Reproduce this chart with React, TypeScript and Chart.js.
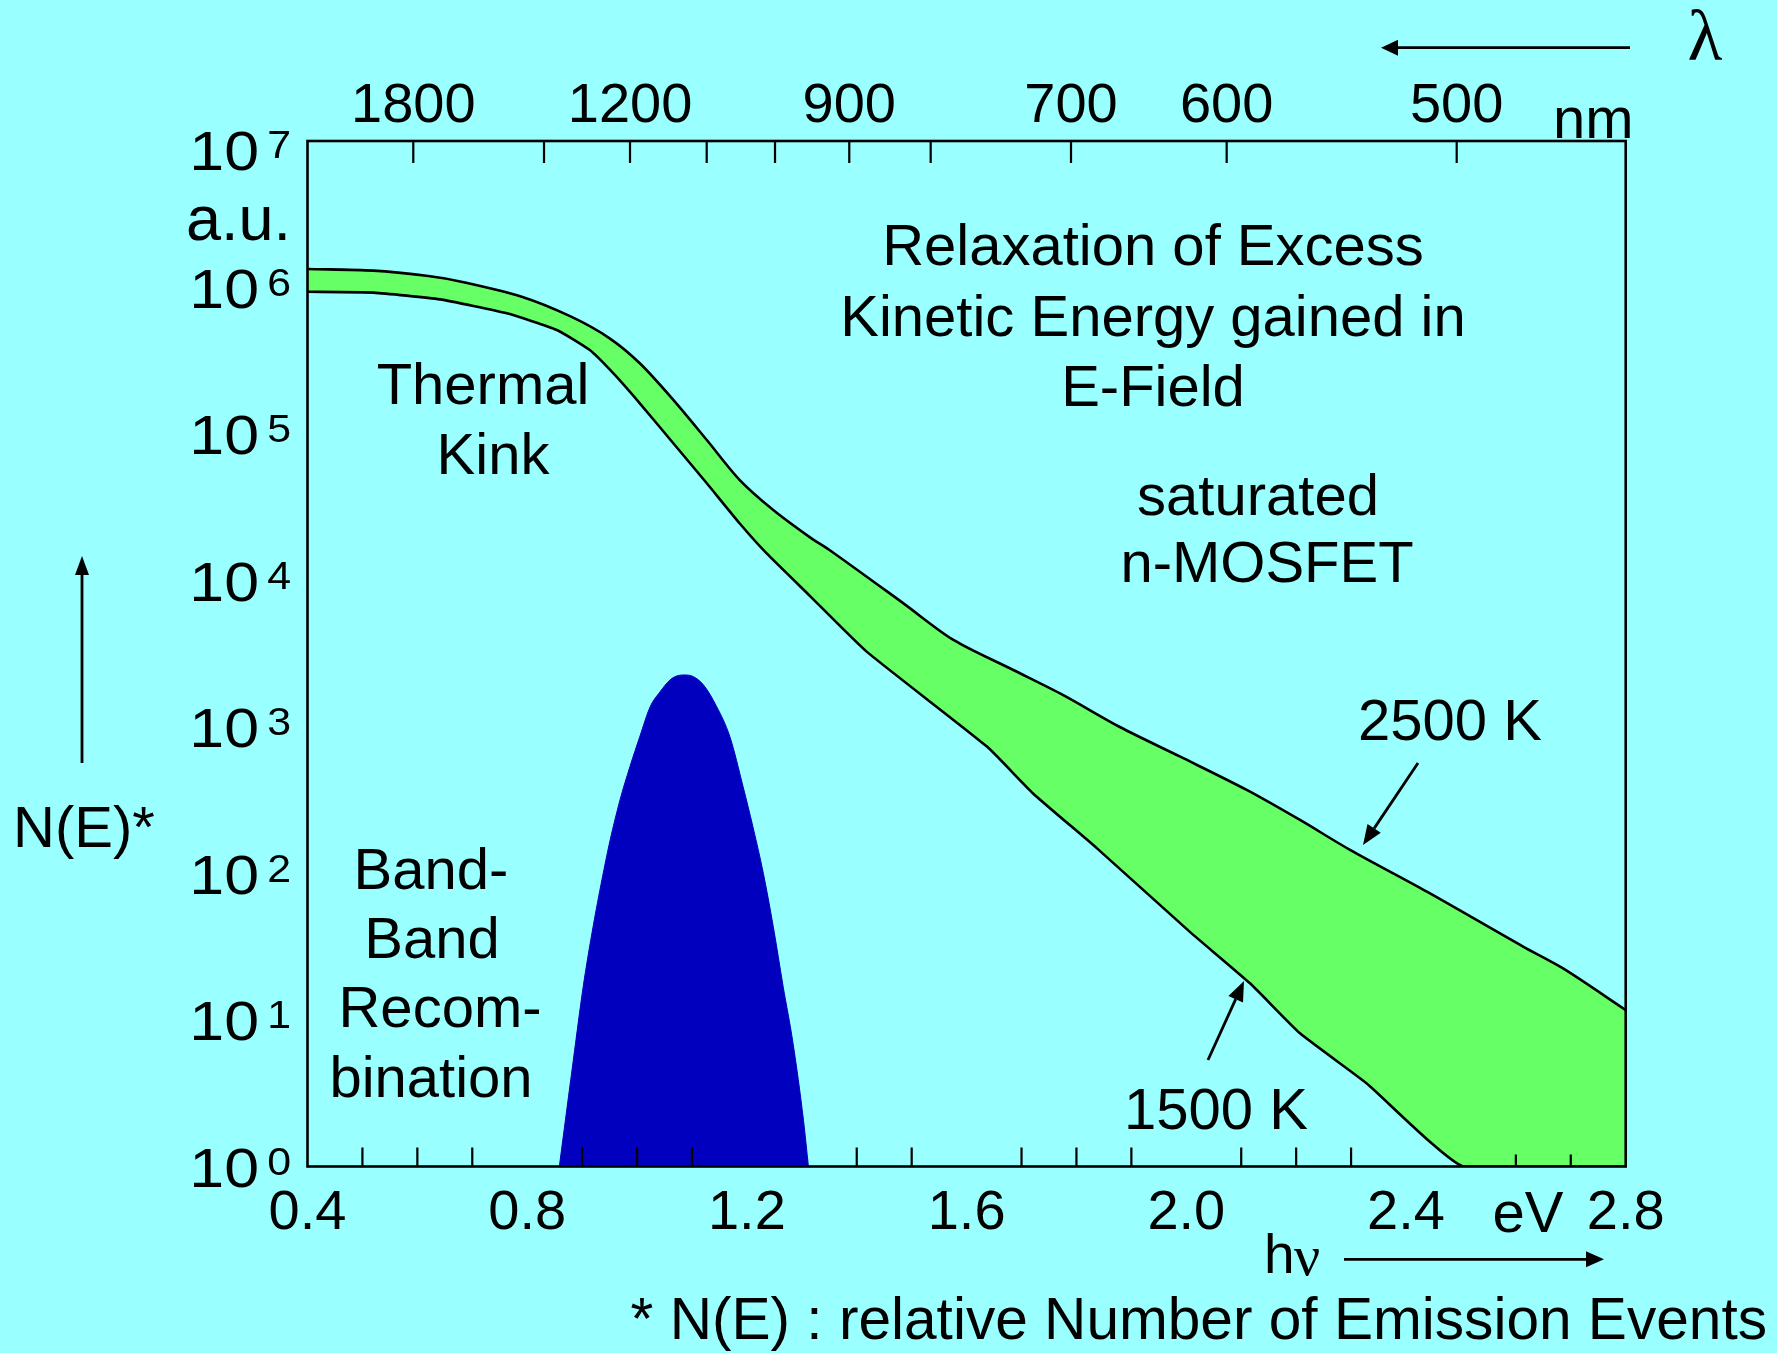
import React, { useEffect, useRef } from 'react';
import { Chart, registerables } from 'chart.js';

Chart.register(...registerables);

// ---------- data ----------
// Upper boundary of the emission band (2500 K)
const energy2500K = [0.40, 0.52, 0.62, 0.68, 0.79, 0.88, 0.95, 1.005, 1.066, 1.127, 1.187, 1.248, 1.315, 1.351, 1.485, 1.576, 1.685, 1.776, 1.879, 1.989, 2.110, 2.207, 2.298, 2.438, 2.614, 2.686, 2.80];
const emission2500K = [1.337e6, 1.303e6, 1.197e6, 1.096e6, 8.65e5, 6.32e5, 4.50e5, 3.04e5, 1.71e5, 9.10e4, 4.85e4, 3.03e4, 1.97e4, 1.61e4, 6.98e3, 3.93e3, 2.45e3, 1.65e3, 1.00e3, 627, 372, 232, 145, 75.2, 31.6, 22.5, 11.7];

// Lower boundary of the emission band (1500 K)
const energy1500K = [0.40, 0.52, 0.641, 0.763, 0.854, 0.914, 0.957, 1.005, 1.066, 1.127, 1.187, 1.236, 1.315, 1.418, 1.637, 1.721, 1.837, 2.007, 2.116, 2.207, 2.328, 2.504, 2.80];
const emission1500K = [9.35e5, 9.23e5, 8.30e5, 6.67e5, 5.13e5, 3.74e5, 2.59e5, 1.62e5, 8.65e4, 4.61e4, 2.45e4, 1.53e4, 7.83e3, 3.27e3, 735, 352, 149, 39.8, 17.8, 8.11, 3.70, 1, 1];

// Band-band recombination peak
const energyBandBand = [0.8585, 0.884, 0.902, 0.920, 0.936, 0.951, 0.969, 0.987, 1.005, 1.024, 1.042, 1.060, 1.072, 1.086, 1.100, 1.121, 1.145, 1.169, 1.193, 1.211, 1.230, 1.248, 1.266, 1.284, 1.303, 1.312];
const emissionBandBand = [1, 5.33, 16.9, 43.4, 90.4, 169, 318, 536, 859, 1377, 1742, 2094, 2228, 2265, 2228, 1936, 1377, 859, 392, 208, 100, 43.4, 16.9, 6.93, 2.07, 1];

// Axis ticks
const xTickValues = [0.4, 0.8, 1.2, 1.6, 2.0, 2.4, 2.8];
const xTickLabels = ['0.4', '0.8', '1.2', '1.6', '2.0', '2.4', '2.8'];
const xMinorTicks = [0.5, 0.6, 0.7, 0.9, 1.0, 1.1, 1.4, 1.5, 1.7, 1.8, 1.9, 2.1, 2.2, 2.3, 2.6, 2.7];
const wavelengthTickEv = [0.5926, 0.8306, 0.9872, 1.1268, 1.2512, 1.3864, 1.5346, 1.7901, 2.0735, 2.4923];
const wavelengthTickLabels = ['1800', '', '1200', '', '', '900', '', '700', '600', '500'];
const yTickExponents = [0, 1, 2, 3, 4, 5, 6, 7];

// ---------- layout / style ----------
const W = 1777;
const H = 1353;
const SANS = '"Liberation Sans", Arial, Helvetica, sans-serif';
const SERIF = '"Liberation Serif", "Times New Roman", serif';
const BG = '#99FFFF';
const GREEN = '#66FF66';
const BLUE = '#0000BE';

function drawText(ctx: CanvasRenderingContext2D, s: string, x: number, y: number, size: number, align: CanvasTextAlign = 'center', family = SANS, scaleX = 1) {
  ctx.save();
  ctx.font = `${size}px ${family}`;
  ctx.textAlign = align;
  ctx.textBaseline = 'alphabetic';
  ctx.translate(x, y);
  ctx.scale(scaleX, 1);
  ctx.fillText(s, 0, 0);
  ctx.restore();
}

function drawArrow(ctx: CanvasRenderingContext2D, x1: number, y1: number, x2: number, y2: number, head = 18, half = 8, lw = 2.8) {
  const ang = Math.atan2(y2 - y1, x2 - x1);
  const bx = x2 - head * Math.cos(ang);
  const by = y2 - head * Math.sin(ang);
  ctx.lineWidth = lw;
  ctx.beginPath();
  ctx.moveTo(x1, y1);
  ctx.lineTo(bx, by);
  ctx.stroke();
  ctx.beginPath();
  ctx.moveTo(x2, y2);
  ctx.lineTo(bx + half * Math.sin(ang), by - half * Math.cos(ang));
  ctx.lineTo(bx - half * Math.sin(ang), by + half * Math.cos(ang));
  ctx.closePath();
  ctx.fill();
}

const decorPlugin = {
  id: 'decor',
  beforeDraw(chart: any) {
    const ctx = chart.ctx as CanvasRenderingContext2D;
    ctx.save();
    ctx.fillStyle = BG;
    ctx.fillRect(0, 0, chart.width, chart.height);
    ctx.restore();
  },
  afterDatasetsDraw(chart: any) {
    const ctx = chart.ctx as CanvasRenderingContext2D;
    const a = chart.chartArea;
    const sx = chart.scales.x;
    const sx2 = chart.scales.x2;
    ctx.save();
    ctx.strokeStyle = '#000';
    ctx.lineWidth = 2.6;
    ctx.strokeRect(a.left, a.top, a.right - a.left, a.bottom - a.top);
    ctx.lineWidth = 2.2;
    ctx.beginPath();
    for (const v of xMinorTicks) {
      const px = sx.getPixelForValue(v);
      const len = v > 2.5 ? 12 : 19;
      ctx.moveTo(px, a.bottom);
      ctx.lineTo(px, a.bottom - len);
    }
    for (const v of wavelengthTickEv) {
      const px = sx2.getPixelForValue(v);
      ctx.moveTo(px, a.top);
      ctx.lineTo(px, a.top + 22);
    }
    ctx.stroke();
    ctx.restore();
  },
  afterDraw(chart: any) {
    const ctx = chart.ctx as CanvasRenderingContext2D;
    const sy = chart.scales.y;
    ctx.save();
    ctx.fillStyle = '#000';
    ctx.strokeStyle = '#000';

    // y tick labels 10^k
    const maxExp = Math.max(...yTickExponents);
    for (const k of yTickExponents) {
      const py = sy.getPixelForValue(Math.pow(10, k));
      const base = py + 20 + (k === maxExp ? 9 : 0);
      drawText(ctx, '10', 259, base, 55, 'right', SANS, 1.14);
      drawText(ctx, String(k), 291, base - 12, 39, 'right', SANS, 1.1);
    }
    drawText(ctx, 'a.u.', 186, 240, 63, 'left');

    // y axis title with arrow
    drawText(ctx, 'N(E)*', 13, 847, 58, 'left');
    drawArrow(ctx, 82, 763, 82, 556, 19, 7, 2.8);

    // top axis: unit and lambda arrow
    drawText(ctx, 'nm', 1553, 138, 58, 'left');
    drawArrow(ctx, 1630, 47.7, 1381, 47.7, 17, 8, 2.8);
    drawText(ctx, 'λ', 1705, 60, 72, 'center', SERIF);

    // bottom axis: unit and h-nu arrow
    drawText(ctx, 'eV', 1528, 1232, 58, 'center');
    drawText(ctx, 'h', 1264, 1273, 55, 'left');
    drawText(ctx, 'ν', 1294, 1275, 58, 'left', SERIF);
    drawArrow(ctx, 1344, 1259.3, 1604, 1259.3, 18, 8, 2.8);

    // in-plot annotations
    drawText(ctx, 'Relaxation of Excess', 1153, 265, 58);
    drawText(ctx, 'Kinetic Energy gained in', 1153, 336, 58);
    drawText(ctx, 'E-Field', 1153, 406, 58);
    drawText(ctx, 'saturated', 1258, 515, 58);
    drawText(ctx, 'n-MOSFET', 1267, 582, 58);
    drawText(ctx, 'Thermal', 483, 404, 58);
    drawText(ctx, 'Kink', 493, 474, 58);
    drawText(ctx, 'Band-', 431, 889, 58);
    drawText(ctx, 'Band', 432, 958, 58);
    drawText(ctx, 'Recom-', 440, 1027, 58);
    drawText(ctx, 'bination', 431, 1097, 58);
    drawText(ctx, '2500 K', 1450, 740, 58);
    drawArrow(ctx, 1418, 763, 1363, 845, 20, 8, 2.8);
    drawText(ctx, '1500 K', 1216, 1129, 58);
    drawArrow(ctx, 1208, 1060, 1244, 981, 20, 8, 2.8);

    // footnote
    drawText(ctx, '* N(E) : relative Number of Emission Events', 1767, 1339, 58.6, 'right');
    ctx.restore();
  },
};

export default function App() {
  const ref = useRef<HTMLCanvasElement>(null);

  useEffect(() => {
    if (!ref.current) return;
    const toPoints = (xs: number[], ys: number[]) => xs.map((x, i) => ({ x, y: ys[i] }));
    const chart = new Chart(ref.current, {
      type: 'line',
      data: {
        datasets: [
          {
            label: '2500 K',
            data: toPoints(energy2500K, emission2500K),
            borderColor: '#000',
            borderWidth: 2.6,
            backgroundColor: GREEN,
            fill: '+1',
            pointRadius: 0,
            tension: 0.3,
            xAxisID: 'x',
            yAxisID: 'y',
          },
          {
            label: '1500 K',
            data: toPoints(energy1500K, emission1500K),
            borderColor: '#000',
            borderWidth: 2.6,
            backgroundColor: GREEN,
            fill: false,
            pointRadius: 0,
            tension: 0.15,
            xAxisID: 'x',
            yAxisID: 'y',
          },
          {
            label: 'Band-Band Recombination',
            data: toPoints(energyBandBand, emissionBandBand),
            borderColor: BLUE,
            borderWidth: 1,
            backgroundColor: BLUE,
            fill: 'start',
            pointRadius: 0,
            cubicInterpolationMode: 'monotone',
            xAxisID: 'x',
            yAxisID: 'y',
          },
        ],
      } as any,
      options: {
        responsive: false,
        maintainAspectRatio: false,
        devicePixelRatio: 1,
        animation: false,
        events: [],
        layout: { padding: { left: 307.5, right: 151.3, top: 81, bottom: 86.5 } },
        plugins: {
          legend: { display: false },
          tooltip: { enabled: false },
          filler: { drawTime: 'beforeDatasetsDraw' },
        } as any,
        scales: {
          x: {
            type: 'linear',
            position: 'bottom',
            min: 0.4,
            max: 2.8,
            afterBuildTicks: (s: any) => {
              s.ticks = xTickValues.map((v) => ({ value: v }));
            },
            afterFit: (s: any) => {
              s.height = 100;
            },
            ticks: {
              autoSkip: false,
              maxRotation: 0,
              minRotation: 0,
              padding: 13,
              color: '#000',
              font: { family: SANS, size: 56 },
              callback: (_v: any, i: number) => xTickLabels[i],
            },
            grid: { display: false, drawTicks: false },
            border: { display: false },
          },
          x2: {
            type: 'linear',
            position: 'top',
            min: 0.4,
            max: 2.8,
            afterBuildTicks: (s: any) => {
              s.ticks = wavelengthTickEv.map((v) => ({ value: v }));
            },
            afterFit: (s: any) => {
              s.height = 60;
            },
            ticks: {
              autoSkip: false,
              maxRotation: 0,
              minRotation: 0,
              padding: 1,
              color: '#000',
              font: { family: SANS, size: 56 },
              callback: (_v: any, i: number) => wavelengthTickLabels[i],
            },
            grid: { display: false, drawTicks: false },
            border: { display: false },
          },
          y: {
            type: 'logarithmic',
            min: 1,
            max: 1e7,
            display: false,
          },
        },
      } as any,
      plugins: [decorPlugin],
    });
    return () => chart.destroy();
  }, []);

  return (
    <div style={{ position: 'fixed', left: 0, top: 0, width: W, height: H, background: BG }}>
      <canvas ref={ref} width={W} height={H} style={{ display: 'block', width: W, height: H }} />
    </div>
  );
}
